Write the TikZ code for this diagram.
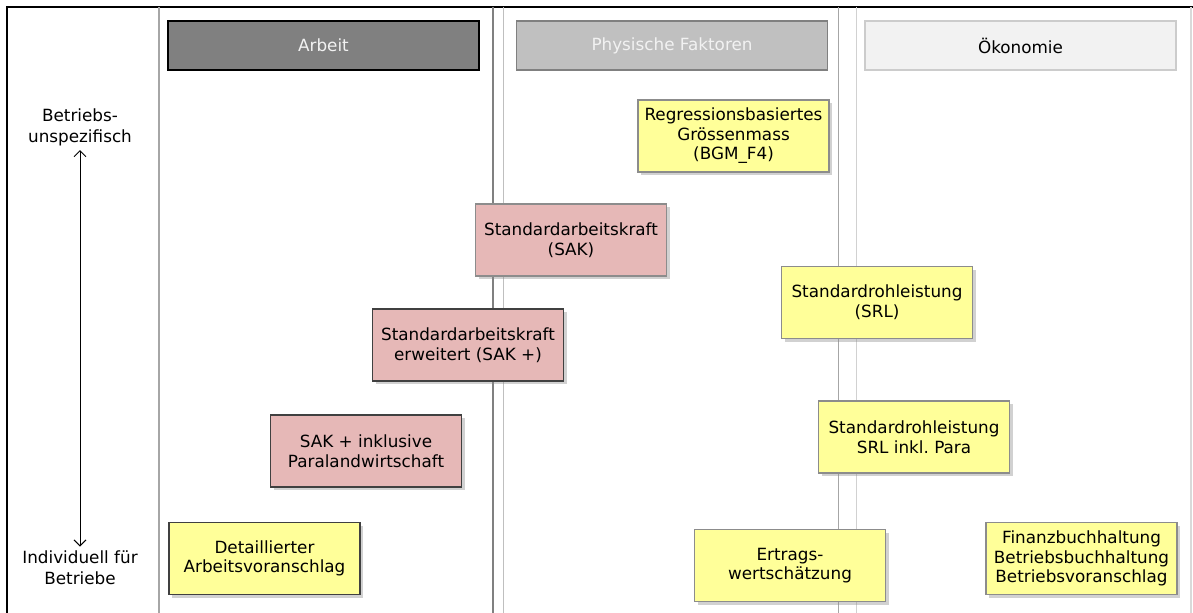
\documentclass[tikz,border=0pt]{standalone}
\usepackage{fontspec}
\setmainfont{DejaVu Sans}
\usetikzlibrary{shadows,arrows.meta}

\definecolor{kastengelb}{HTML}{FFFF99}
\definecolor{kastenrosa}{HTML}{E6B8B7}
\definecolor{kopfdunkel}{HTML}{808080}
\definecolor{kopfmittel}{HTML}{C0C0C0}
\definecolor{kopfhell}{HTML}{F2F2F2}
\definecolor{rahmengrau}{HTML}{8C8C8C}

\tikzset{
  kasten/.style={draw=rahmengrau, line width=0.6pt, align=center, inner sep=2pt,
    minimum width=95.5pt, minimum height=36pt,
    font=\fontsize{8.4pt}{9.8pt}\selectfont,
    drop shadow={shadow xshift=1.6pt, shadow yshift=-1.6pt, fill=black!45, opacity=0.4}},
  gelb/.style={kasten, fill=kastengelb},
  rosa/.style={kasten, fill=kastenrosa},
  dunkelrand/.style={draw=black!75},
  kopf/.style={line width=0.7pt, minimum width=155.5pt, minimum height=24.5pt, inner sep=0pt,
    font=\fontsize{8.4pt}{9.8pt}\selectfont},
  achse/.style={align=center, inner sep=2pt, font=\fontsize{8.4pt}{10.5pt}\selectfont},
}

\begin{document}
\frenchspacing
\begin{tikzpicture}[x=0.5pt, y=-0.5pt]
      \useasboundingbox (0,0) rectangle (1193,613);

      %rahmen
      \draw[line width=1pt] (7,613) -- (7,7) -- (1193,7);
      \draw[line width=0.8pt, black!15] (1191,7) -- (1191,613);
      %spalten
      \draw[line width=1pt, black!35] (159,7) -- (159,613);
      \draw[line width=1pt, black!50] (493,7) -- (493,613);
      \draw[line width=0.5pt, black!25] (503,7) -- (503,613);
      \draw[line width=0.5pt, black!35] (838,7) -- (838,613);
      \draw[line width=0.5pt, black!18] (856,7) -- (856,613);

      %kopfzeilen
      \node[kopf, draw=black, fill=kopfdunkel, text=kopfhell] (arbeit) at (323.5,45.5) {Arbeit};
      \node[kopf, draw=kopfdunkel, fill=kopfmittel, text=kopfhell] (physisch) at (672,45.5) {Physische Faktoren};
      \node[kopf, draw=black!20, fill=kopfhell] (oekonomie) at (1020.5,45.5) {Ökonomie};

      %achse links
      \node[achse] (unspez) at (80,127) {Betriebs-\\unspezifisch};
      \node[achse] (indiv) at (80,568) {Individuell für\\Betriebe};
      \draw[{Straight Barb[length=3pt,width=6pt]}-{Straight Barb[length=3pt,width=6pt]}, line width=0.5pt]
        (unspez.south) -- (indiv.north);

      %kaesten
      \node[gelb] (bgm) at (733.5,136) {Regressionsbasiertes\\Grössenmass\\(BGM\_F4)};
      \node[rosa] (sak) at (571,240) {Standardarbeitskraft\\(SAK)};
      \node[rosa, dunkelrand] (sakplus) at (468,345) {Standardarbeitskraft\\erweitert (SAK +)};
      \node[gelb] (srl) at (877,302.5) {Standardrohleistung\\(SRL)};
      \node[rosa, dunkelrand] (sakpara) at (366,451) {SAK + inklusive\\Paralandwirtschaft};
      \node[gelb] (srlpara) at (914,437) {Standardrohleistung\\SRL inkl. Para};
      \node[gelb, dunkelrand] (detail) at (264.5,558.5) {Detaillierter\\Arbeitsvoranschlag};
      \node[gelb] (ertrag) at (790,565.5) {Ertrags-\\wertschätzung};
      \node[gelb] (finanz) at (1081.5,558.5) {Finanzbuchhaltung\\Betriebsbuchhaltung\\Betriebsvoranschlag};
\end{tikzpicture}
\end{document}
